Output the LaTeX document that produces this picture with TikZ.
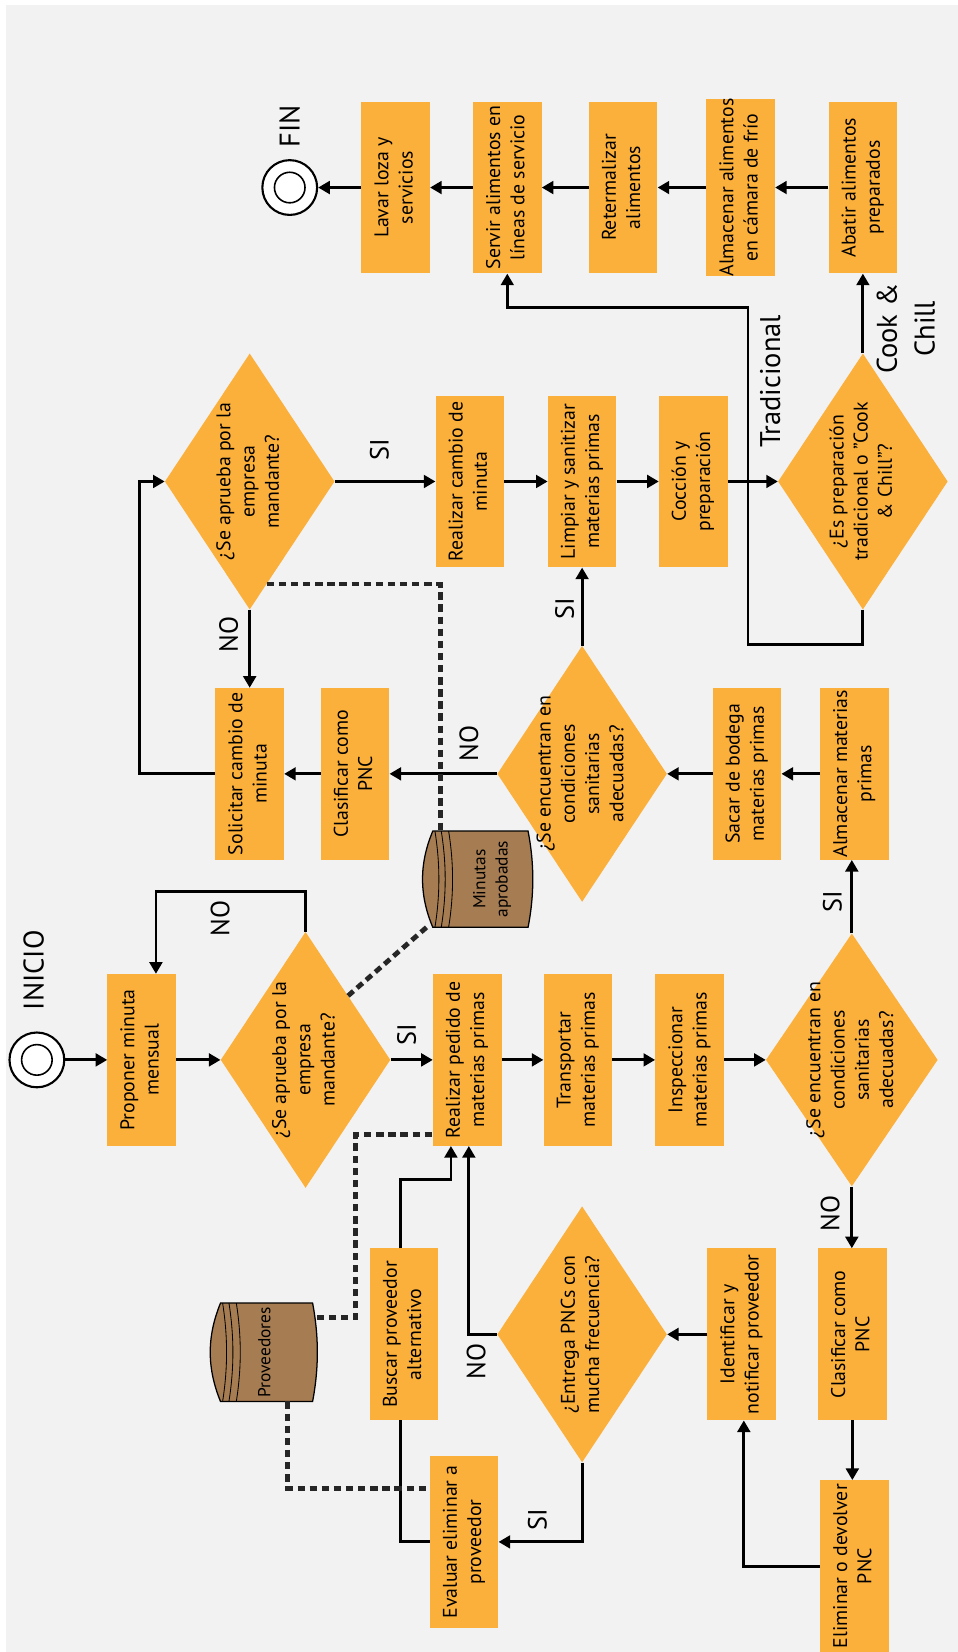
\documentclass[tikz,border=0pt]{standalone}
\usepackage{fontspec}
\setmainfont{PT Sans}
\usepackage{graphicx}
\usetikzlibrary{arrows.meta,shapes.geometric,calc}

\definecolor{bgc}{HTML}{F2F2F2}
\definecolor{boxc}{HTML}{FBB03B}
\definecolor{drumc}{HTML}{A67C52}

% text set vertically, reading upwards
\newcommand{\vtext}[1]{\rotatebox{90}{\begin{tabular}{@{}c@{}}#1\end{tabular}}}

% database drum lying on its side, drawn around a named node
\newcommand{\drumbody}[1]{%
  \filldraw[fill=drumc, line width=1.2pt]
    ($(#1.north west)+(10,0)$) -- ($(#1.north east)+(-4,0)$)
    .. controls ($(#1.east)+(2,-15)$) and ($(#1.east)+(2,15)$) .. ($(#1.south east)+(-4,0)$)
    -- ($(#1.south west)+(10,0)$)
    .. controls ($(#1.west)+(-3,15)$) and ($(#1.west)+(-3,-15)$) .. cycle;
  \foreach \k in {2,8,15}
    \draw[line width=0.8pt] ($(#1.north west)+(10+\k,0)$)
      .. controls ($(#1.west)+(15+\k,-15)$) and ($(#1.west)+(15+\k,15)$) .. ($(#1.south west)+(10+\k,0)$);
}

\begin{document}
\begin{tikzpicture}[x=1pt,y=-1pt,
  proc/.style={fill=boxc, minimum width=65pt, minimum height=163pt, inner sep=0pt,
               font=\fontsize{18.8}{23}\selectfont},
  decide/.style={diamond, fill=boxc, minimum width=161pt, minimum height=243pt,
                 inner sep=0pt, aspect=0.66},
  dtext/.style={inner sep=0pt, font=\fontsize{18.8}{23}\selectfont},
  drumtext/.style={inner sep=0pt, font=\fontsize{16.5}{21}\selectfont},
  term/.style={circle, draw, line width=2pt, fill=white, minimum size=52pt, inner sep=0pt},
  flow/.style={line width=2.7pt, -{Triangle[length=11pt,width=12pt]}},
  plain/.style={line width=2.7pt},
  datalink/.style={line width=4.6pt, dash pattern=on 7pt off 4.5pt, draw=black!85},
  tag/.style={inner sep=0pt, font=\fontsize{25}{30}\selectfont},
  bigtag/.style={inner sep=0pt, font=\fontsize{27}{36}\selectfont},
]
\useasboundingbox (0,0) rectangle (909,1568);
\fill[white] (0,0) rectangle (909,1568);
\fill[bgc] (5.7,4.7) rectangle (909,1568);

% ---------- final chain ----------
\node[term] (fin) at (275,178) {};
\draw[line width=1.5pt] (fin) circle (14.5pt);
\node[bigtag] (fintxt) at (275,120) {\rotatebox{90}{FIN}};
\node[proc] (lavar)  at (375.5,178) {\vtext{Lavar loza y\\servicios}};
\node[proc] (servir) at (481.5,178) {\vtext{Servir alimentos en\\líneas de servicio}};
\node[proc] (reterm) at (591.5,178) {\vtext{Retermalizar\\alimentos}};
\node[proc] (almcam) at (703,178)   {\vtext{Almacenar alimentos\\en cámara de frío}};
\node[proc] (abatir) at (819,178)   {\vtext{Abatir alimentos\\preparados}};

% ---------- menu change and preparation ----------
\node[decide] (d1) at (237,457) {};
\node[dtext] (d1t) at (237,457) {\vtext{¿Se aprueba por la\\empresa\\mandante?}};
\node[proc] (realcambio) at (446,457)   {\vtext{Realizar cambio de\\minuta}};
\node[proc] (limpiar)    at (552.5,457) {\vtext{Limpiar y sanitizar\\materias primas}};
\node[proc] (coccion)    at (658,457)   {\vtext{Cocción y\\preparación}};
\node[decide] (dprep) at (819,457) {};
\node[dtext] (dprept) at (819,457) {\vtext{¿Es preparación\\tradicional o "Cook\\\& Chill"?}};

% ---------- storage and second inspection ----------
\node[proc] (solicitar) at (237,734.5) {\vtext{Solicitar cambio de\\minuta}};
\node[proc] (clas1)     at (337,734.5) {\vtext{Clasificar como\\PNC}};
\node[decide] (d2) at (552.5,734.5) {};
\node[dtext] (d2t) at (552.5,734.5) {\vtext{¿Se encuentran en\\condiciones\\sanitarias\\adecuadas?}};
\node[proc] (sacar) at (709,734.5) {\vtext{Sacar de bodega\\materias primas}};
\node[proc] (almmp) at (811,734.5) {\vtext{Almacenar materias\\primas}};

% approved menus store
\node[minimum width=104pt, minimum height=91pt, inner sep=0pt] (minutas) at (453,834.5) {};
\drumbody{minutas}
\node[drumtext] (minutast) at (467,834.5) {\vtext{Minutas\\aprobadas}};

% ---------- start and purchasing ----------
\node[term] (inicio) at (35,1006) {};
\draw[line width=1.5pt] (inicio) circle (14.5pt);
\node[bigtag] (iniciotxt) at (32,921) {\rotatebox{90}{INICIO}};
\node[proc] (proponer) at (134.5,1006) {\vtext{Proponer minuta\\mensual}};
\node[decide] (d3) at (290,1006) {};
\node[dtext] (d3t) at (290,1006) {\vtext{¿Se aprueba por la\\empresa\\mandante?}};
\node[proc] (pedido) at (443.5,1006) {\vtext{Realizar pedido de\\materias primas}};
\node[proc] (transp) at (548.5,1006) {\vtext{Transportar\\materias primas}};
\node[proc] (insp)   at (654.5,1006) {\vtext{Inspeccionar\\materias primas}};
\node[decide, minimum width=163pt, minimum height=240pt] (d4) at (808.5,1006) {};
\node[dtext] (d4t) at (808.5,1006) {\vtext{¿Se encuentran en\\condiciones\\sanitarias\\adecuadas?}};

% ---------- non-conforming product handling ----------
\node[minimum width=101pt, minimum height=93pt, inner sep=0pt] (prov) at (250,1283.5) {};
\drumbody{prov}
\node[drumtext] (provt) at (251,1283.5) {\rotatebox{90}{Proveedores}};
\node[proc] (buscar) at (383.5,1266.5) {\vtext{Buscar proveedor\\alternativo}};
\node[decide] (d5) at (552.5,1266.5) {};
\node[dtext] (d5t) at (552.5,1266.5) {\vtext{¿Entrega PNCs con\\mucha frecuencia?}};
\node[proc] (ident)    at (704,1266.5)   {\vtext{Identificar y\\notificar proveedor}};
\node[proc] (clas2)    at (809,1266.5)   {\vtext{Clasificar como\\PNC}};
\node[proc] (evaluar)  at (440.5,1463.5) {\vtext{Evaluar eliminar a\\proveedor}};
\node[proc] (eliminar) at (811,1486.5)   {\vtext{Eliminar o devolver\\PNC}};

% ---------- connectors: final chain ----------
\draw[flow] (abatir.west) -- (abatir.west -| almcam.east);
\draw[flow] (almcam.west) -- (almcam.west -| reterm.east);
\draw[flow] (reterm.west) -- (reterm.west -| servir.east);
\draw[flow] (servir.west) -- (servir.west -| lavar.east);
\draw[flow] (lavar.west) -- (fin.east);
\draw[flow] (dprep.north) -- (abatir.south);
\coordinate (tr1) at (710,612);
\coordinate (tr2) at (710,292);
\draw[flow] (dprep.south) |- (tr1) -- (tr2) -| (servir.south);

% ---------- connectors: menu change and preparation ----------
\draw[flow] (d1.east) -- (realcambio.west);
\draw[flow] (realcambio.east) -- (limpiar.west);
\draw[flow] (limpiar.east) -- (coccion.west);
\draw[flow] (coccion.east) -- (dprep.west);
\draw[flow] (d1.south) -- (solicitar.north);
\draw[flow] (solicitar.west) -- ++(-72,0) |- (d1.west);

% ---------- connectors: storage and second inspection ----------
\draw[flow] (almmp.west) -- (sacar.east);
\draw[flow] (sacar.west) -- (d2.east);
\draw[flow] (d2.west) -- (clas1.east);
\draw[flow] (clas1.west) -- (solicitar.east);
\draw[flow] (d2.north) -- (limpiar.south);

% ---------- connectors: start and purchasing ----------
\draw[flow] (inicio.east) -- (proponer.west);
\draw[flow] (proponer.east) -- (d3.west);
\draw[flow] (d3.east) -- (pedido.west);
\draw[flow] (pedido.east) -- (transp.west);
\draw[flow] (transp.east) -- (insp.west);
\draw[flow] (insp.east) -- (d4.west);
\draw[flow] (d3.north) -- ++(0,-38) -| ($(proponer.north)+(13.5,0)$);
\draw[flow] (d4.north) -- (d4.north |- almmp.south);
\draw[flow] (d4.south) -- (d4.south |- clas2.north);

% ---------- connectors: non-conforming product handling ----------
\draw[flow] (clas2.south) -- (clas2.south |- eliminar.north);
\draw[flow] (eliminar.west) -| ($(ident.south)+(2,0)$);
\draw[flow] (ident.west) -- (d5.east);
\draw[flow] (d5.west) -| ($(pedido.south)+(1.5,0)$);
\draw[flow] (d5.south) |- (evaluar.east);
\draw[plain] (evaluar.west) -| ($(buscar.south)+(-3.5,0)$);
\draw[flow] ($(buscar.north)+(-3.5,0)$) -- ++(0,-65) -| ($(pedido.south)+(-15.5,0)$);

% ---------- data links ----------
\draw[datalink] ($(d1.south)!0.2!(d1.east)$) -| ($(minutas.north west)+(17,0)$);
\draw[datalink] ($(minutas.south west)+(4,0)$) -- (d3.north east);
\draw[datalink] ($(prov.north east)+(0,14)$) -- ++(37,0) |- ($(pedido.south west)+(0,-10.5)$);
\draw[datalink] ($(prov.south)+(23,0)$) |- ($(evaluar.north west)+(0,31)$);

% ---------- branch labels ----------
\node[tag] (l1) at (360,427) {\rotatebox{90}{SI}};
\node[tag] (l2) at (217,602) {\rotatebox{90}{NO}};
\node[tag] (l3) at (445,706) {\rotatebox{90}{NO}};
\node[tag] (l4) at (536,578) {\rotatebox{90}{SI}};
\node[tag] (l5) at (386,982) {\rotatebox{90}{SI}};
\node[tag] (l6) at (209,872) {\rotatebox{90}{NO}};
\node[tag] (l7) at (790,856) {\rotatebox{90}{SI}};
\node[tag] (l8) at (788,1152) {\rotatebox{90}{NO}};
\node[tag] (l9) at (452,1292) {\rotatebox{90}{NO}};
\node[tag] (l10) at (510,1442) {\rotatebox{90}{SI}};
\node[bigtag] (ltrad) at (731,362) {\rotatebox{90}{Tradicional}};
\node[bigtag] (lcook) at (862,312) {\vtext{Cook \&\\Chill}};
\end{tikzpicture}
\end{document}
